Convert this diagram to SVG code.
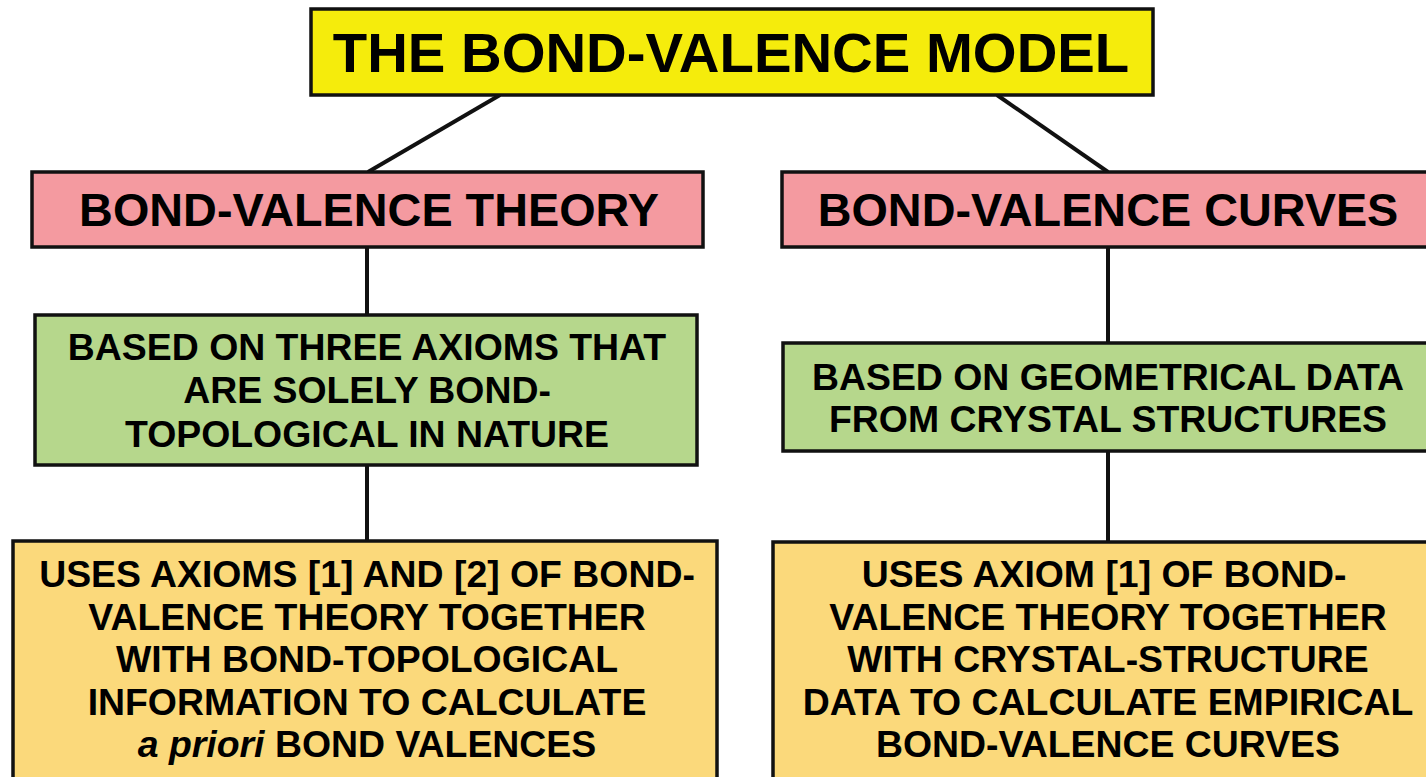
<svg xmlns="http://www.w3.org/2000/svg" width="1426" height="777" viewBox="0 0 1426 777">
<style>
.box{stroke:#111;stroke-width:3.5}
.t{font-family:"Liberation Sans",Arial,sans-serif;font-weight:bold;fill:#000;text-anchor:middle}
.conn{stroke:#111;stroke-width:4;fill:none}
</style>
<rect width="1426" height="777" fill="#fff"/>
<g id="connectors">
<line class="conn" x1="500" y1="95" x2="368" y2="172"/>
<line class="conn" x1="997" y1="95" x2="1108" y2="172"/>
<line class="conn" x1="367" y1="247" x2="367" y2="315"/>
<line class="conn" x1="367" y1="465" x2="367" y2="541"/>
<line class="conn" x1="1108" y1="247" x2="1108" y2="343"/>
<line class="conn" x1="1108" y1="451" x2="1108" y2="542"/>
</g>
<g id="title">
<rect class="box" x="311" y="9" width="842" height="86" fill="#f5ec0c"/>
<text class="t" x="731" y="72" font-size="56.3">THE BOND-VALENCE MODEL</text>
</g>
<g id="theory">
<rect class="box" x="32" y="172" width="671" height="75" fill="#f49aa0"/>
<text class="t" x="369" y="226" font-size="46.8">BOND-VALENCE THEORY</text>
</g>
<g id="curves">
<rect class="box" x="782" y="172" width="660" height="75" fill="#f49aa0"/>
<text class="t" x="1108" y="226" font-size="46.8">BOND-VALENCE CURVES</text>
</g>
<g id="axioms">
<rect class="box" x="35" y="315" width="662" height="150" fill="#b6d78c"/>
<text class="t" font-size="37.4"><tspan x="367" y="360">BASED ON THREE AXIOMS THAT</tspan><tspan x="367" y="403">ARE SOLELY BOND-</tspan><tspan x="367" y="447">TOPOLOGICAL IN NATURE</tspan></text>
</g>
<g id="geometric">
<rect class="box" x="783" y="343" width="660" height="108" fill="#b6d78c"/>
<text class="t" font-size="37.4"><tspan x="1108" y="390">BASED ON GEOMETRICAL DATA</tspan><tspan x="1108" y="432">FROM CRYSTAL STRUCTURES</tspan></text>
</g>
<g id="apriori">
<rect class="box" x="13" y="541" width="704" height="245" fill="#fbd97b"/>
<text class="t" font-size="37.4"><tspan x="367" y="587">USES AXIOMS [1] AND [2] OF BOND-</tspan><tspan x="367" y="630">VALENCE THEORY TOGETHER</tspan><tspan x="367" y="672">WITH BOND-TOPOLOGICAL</tspan><tspan x="367" y="715">INFORMATION TO CALCULATE</tspan><tspan x="367" y="757"><tspan font-style="italic">a priori</tspan> BOND VALENCES</tspan></text>
</g>
<g id="empirical">
<rect class="box" x="773" y="542" width="670" height="245" fill="#fbd97b"/>
<text class="t" font-size="37.4"><tspan x="1104" y="587">USES AXIOM [1] OF BOND-</tspan><tspan x="1108" y="630">VALENCE THEORY TOGETHER</tspan><tspan x="1108" y="672">WITH CRYSTAL-STRUCTURE</tspan><tspan x="1108" y="715">DATA TO CALCULATE EMPIRICAL</tspan><tspan x="1108" y="757">BOND-VALENCE CURVES</tspan></text>
</g>
</svg>
